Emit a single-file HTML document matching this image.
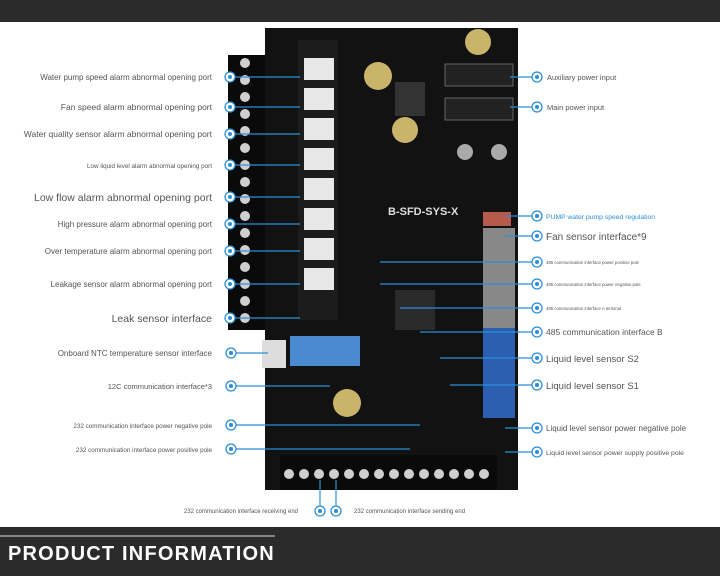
<!DOCTYPE html>
<html><head><meta charset="utf-8"><style>
body{margin:0;width:720px;height:576px;overflow:hidden;background:#fff;font-family:"Liberation Sans",sans-serif}
</style></head><body>
<svg width="720" height="576" xmlns="http://www.w3.org/2000/svg" font-family="Liberation Sans, sans-serif">
<rect width="720" height="22" fill="#2b2b2b"/>
<rect y="527" width="720" height="49" fill="#2b2b2b"/>
<line x1="0" y1="536" x2="275" y2="536" stroke="#ddd" stroke-width="1"/>
<text x="8" y="560" fill="#fff" font-size="20" font-weight="bold" letter-spacing="1.2">PRODUCT INFORMATION</text>
<rect x="265" y="28" width="253" height="462" fill="#121212"/>
<rect x="298" y="40" width="40" height="280" fill="#1c1c1c"/>
<g fill="#e8e8e8">
<rect x="304" y="58" width="30" height="22"/><rect x="304" y="88" width="30" height="22"/><rect x="304" y="118" width="30" height="22"/><rect x="304" y="148" width="30" height="22"/><rect x="304" y="178" width="30" height="22"/><rect x="304" y="208" width="30" height="22"/><rect x="304" y="238" width="30" height="22"/><rect x="304" y="268" width="30" height="22"/>
</g>
<circle cx="378" cy="76" r="14" fill="#c9b46a"/><circle cx="405" cy="130" r="13" fill="#c9b46a"/><circle cx="478" cy="42" r="13" fill="#c9b46a"/><circle cx="347" cy="403" r="14" fill="#c9b46a"/>
<rect x="395" y="82" width="30" height="34" fill="#333"/>
<rect x="445" y="64" width="68" height="22" fill="#222" stroke="#666"/><rect x="445" y="98" width="68" height="22" fill="#222" stroke="#666"/>
<circle cx="465" cy="152" r="8" fill="#aaa"/><circle cx="499" cy="152" r="8" fill="#aaa"/>
<text x="388" y="215" fill="#ddd" font-size="11" font-weight="bold">B-SFD-SYS-X</text>
<rect x="483" y="212" width="28" height="14" fill="#b65a4e"/>
<rect x="483" y="228" width="32" height="100" fill="#888"/>
<rect x="483" y="328" width="32" height="90" fill="#2d5fb0"/>
<rect x="290" y="336" width="70" height="30" fill="#4a8ad0"/>
<rect x="262" y="340" width="24" height="28" fill="#ddd"/>
<rect x="395" y="290" width="40" height="40" fill="#2a2a2a"/>
<rect x="228" y="55" width="37" height="275" fill="#0a0a0a"/>
<g fill="#cfcfcf">
<circle cx="245" cy="63" r="5"/><circle cx="245" cy="80" r="5"/><circle cx="245" cy="97" r="5"/><circle cx="245" cy="114" r="5"/><circle cx="245" cy="131" r="5"/><circle cx="245" cy="148" r="5"/><circle cx="245" cy="165" r="5"/><circle cx="245" cy="182" r="5"/><circle cx="245" cy="199" r="5"/><circle cx="245" cy="216" r="5"/><circle cx="245" cy="233" r="5"/><circle cx="245" cy="250" r="5"/><circle cx="245" cy="267" r="5"/><circle cx="245" cy="284" r="5"/><circle cx="245" cy="301" r="5"/><circle cx="245" cy="318" r="5"/>
</g>
<rect x="280" y="455" width="217" height="35" fill="#0a0a0a"/>
<g fill="#cfcfcf">
<circle cx="289" cy="474" r="5"/><circle cx="304" cy="474" r="5"/><circle cx="319" cy="474" r="5"/><circle cx="334" cy="474" r="5"/><circle cx="349" cy="474" r="5"/><circle cx="364" cy="474" r="5"/><circle cx="379" cy="474" r="5"/><circle cx="394" cy="474" r="5"/><circle cx="409" cy="474" r="5"/><circle cx="424" cy="474" r="5"/><circle cx="439" cy="474" r="5"/><circle cx="454" cy="474" r="5"/><circle cx="469" cy="474" r="5"/><circle cx="484" cy="474" r="5"/>
</g>
<g stroke="#2a8fd6" stroke-width="1.2" fill="none">
<path d="M230 77H300M230 107H300M230 134H300M230 165H300M230 197H300M230 224H300M230 251H300M230 284H300M230 318H300M231 353H268M231 386H330M231 425H420M231 449H410"/>
<path d="M537 77H510M537 107H510M537 216H505M537 236H505M537 262H380M537 284H380M537 308H400M537 332H420M537 358H440M537 385H450M537 428H505M537 452H505"/>
<path d="M320 511V480M336 511V480"/>
</g>
<g fill="#fff" stroke="#2a8fd6" stroke-width="1.3">
<circle cx="230" cy="77" r="5"/><circle cx="230" cy="107" r="5"/><circle cx="230" cy="134" r="5"/><circle cx="230" cy="165" r="5"/><circle cx="230" cy="197" r="5"/><circle cx="230" cy="224" r="5"/><circle cx="230" cy="251" r="5"/><circle cx="230" cy="284" r="5"/><circle cx="230" cy="318" r="5"/><circle cx="231" cy="353" r="5"/><circle cx="231" cy="386" r="5"/><circle cx="231" cy="425" r="5"/><circle cx="231" cy="449" r="5"/>
<circle cx="537" cy="77" r="5"/><circle cx="537" cy="107" r="5"/><circle cx="537" cy="216" r="5"/><circle cx="537" cy="236" r="5"/><circle cx="537" cy="262" r="5"/><circle cx="537" cy="284" r="5"/><circle cx="537" cy="308" r="5"/><circle cx="537" cy="332" r="5"/><circle cx="537" cy="358" r="5"/><circle cx="537" cy="385" r="5"/><circle cx="537" cy="428" r="5"/><circle cx="537" cy="452" r="5"/>
<circle cx="320" cy="511" r="5"/><circle cx="336" cy="511" r="5"/>
</g>
<g fill="#2a8fd6">
<circle cx="230" cy="77" r="2"/><circle cx="230" cy="107" r="2"/><circle cx="230" cy="134" r="2"/><circle cx="230" cy="165" r="2"/><circle cx="230" cy="197" r="2"/><circle cx="230" cy="224" r="2"/><circle cx="230" cy="251" r="2"/><circle cx="230" cy="284" r="2"/><circle cx="230" cy="318" r="2"/><circle cx="231" cy="353" r="2"/><circle cx="231" cy="386" r="2"/><circle cx="231" cy="425" r="2"/><circle cx="231" cy="449" r="2"/>
<circle cx="537" cy="77" r="2"/><circle cx="537" cy="107" r="2"/><circle cx="537" cy="216" r="2"/><circle cx="537" cy="236" r="2"/><circle cx="537" cy="262" r="2"/><circle cx="537" cy="284" r="2"/><circle cx="537" cy="308" r="2"/><circle cx="537" cy="332" r="2"/><circle cx="537" cy="358" r="2"/><circle cx="537" cy="385" r="2"/><circle cx="537" cy="428" r="2"/><circle cx="537" cy="452" r="2"/>
<circle cx="320" cy="511" r="2"/><circle cx="336" cy="511" r="2"/>
</g>
<g fill="#555" text-anchor="end">
<text x="212" y="80" font-size="8">Water pump speed alarm abnormal opening port</text>
<text x="212" y="110" font-size="8.5">Fan speed alarm abnormal opening port</text>
<text x="212" y="137" font-size="8.5">Water quality sensor alarm abnormal opening port</text>
<text x="212" y="168" font-size="6.3">Low liquid level alarm abnormal opening port</text>
<text x="212" y="201" font-size="10.5">Low flow alarm abnormal opening port</text>
<text x="212" y="227" font-size="8">High pressure alarm abnormal opening port</text>
<text x="212" y="254" font-size="8">Over temperature alarm abnormal opening port</text>
<text x="212" y="287" font-size="8">Leakage sensor alarm abnormal opening port</text>
<text x="212" y="322" font-size="10.5">Leak sensor interface</text>
<text x="212" y="356" font-size="8">Onboard NTC temperature sensor interface</text>
<text x="212" y="389" font-size="7.5">12C communication interface*3</text>
<text x="212" y="428" font-size="6.3">232 communication interface power negative pole</text>
<text x="212" y="452" font-size="6.3">232 communication interface power positive pole</text>
<text x="298" y="513" font-size="6">232 communication interface receiving end</text>
</g>
<g fill="#555">
<text x="354" y="513" font-size="6">232 communication interface sending end</text>
<text x="547" y="80" font-size="7.5">Auxiliary power input</text>
<text x="547" y="110" font-size="7.5">Main power input</text>
<text x="546" y="219" font-size="6.8" fill="#2a8fd6">PUMP water pump speed regulation</text>
<text x="546" y="240" font-size="10">Fan sensor interface*9</text>
<text x="546" y="264" font-size="4.3">485 communication interface power positive pole</text>
<text x="546" y="286" font-size="4.3">485 communication interface power negative pole</text>
<text x="546" y="310" font-size="4.3">485 communication interface A terminal</text>
<text x="546" y="335" font-size="8.5">485 communication interface B</text>
<text x="546" y="362" font-size="9.5">Liquid level sensor S2</text>
<text x="546" y="389" font-size="9.5">Liquid level sensor S1</text>
<text x="546" y="431" font-size="8">Liquid level sensor power negative pole</text>
<text x="546" y="455" font-size="6.8">Liquid level sensor power supply positive pole</text>
</g>
</svg>
</body></html>
